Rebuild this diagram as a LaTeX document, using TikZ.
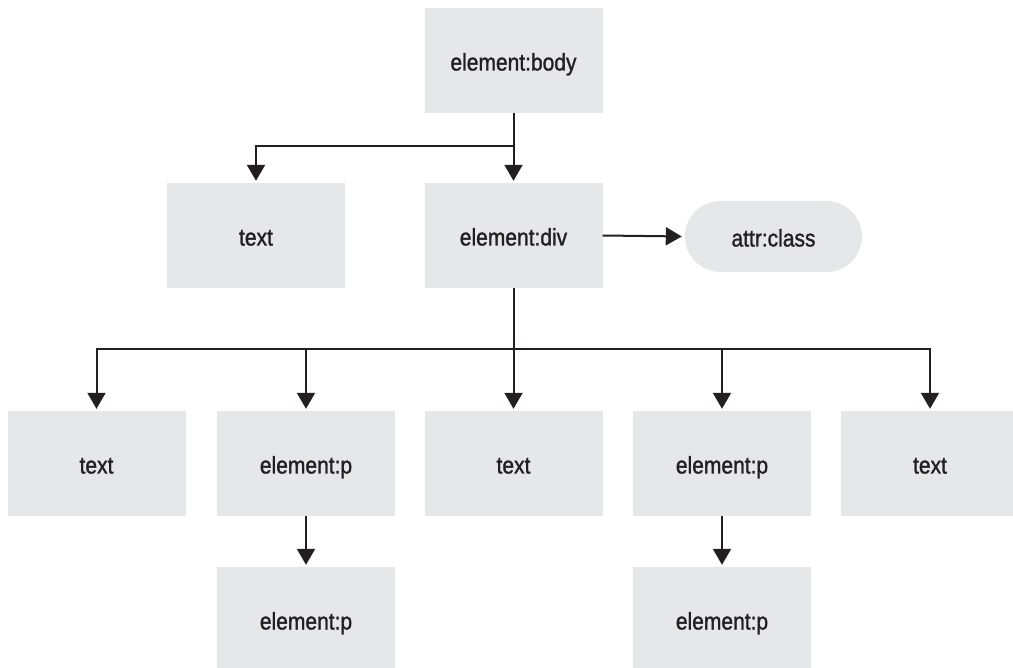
\documentclass[tikz,border=0pt]{standalone}
\usepackage{fontspec}
\setmainfont{Liberation Sans}[FakeStretch=0.875,FakeBold=1.2]
\usetikzlibrary{arrows.meta}
\definecolor{boxgray}{HTML}{E6E7E8}
\definecolor{ink}{HTML}{231F20}
\begin{document}
\begin{tikzpicture}[x=1pt,y=-1pt,
  box/.style={fill=boxgray,draw=none,minimum width=178pt,minimum height=105pt,inner sep=0pt,
    text=ink,font=\fontsize{24}{28}\selectfont,text height=20pt,text depth=0pt},
  pill/.style={box,minimum width=177pt,minimum height=71pt,rounded corners=35.5pt},
  conn/.style={draw=ink,line width=2pt},
  arr/.style={conn,-{Triangle[length=16pt,width=18pt]},shorten >=2pt}]
\useasboundingbox (0,0) rectangle (1013,668);
\clip (0,0) rectangle (1013,668);
\node[box] (body) at (513.5,60.5) {element:body};
\node[box] (t1) at (256,235.5) {text};
\node[box] (div) at (513.5,235.5) {element:div};
\node[pill] (attr) at (773.5,236.5) {attr:class};
\node[box] (r1) at (96.5,463.5) {text};
\node[box] (r2) at (306,463.5) {element:p};
\node[box] (r3) at (513.5,463.5) {text};
\node[box] (r4) at (722,463.5) {element:p};
\node[box] (r5) at (930,463.5) {text};
\node[box] (s2) at (306,619.5) {element:p};
\node[box] (s4) at (722,619.5) {element:p};
\coordinate (j1) at (513.5,146);
\coordinate (j2) at (513.5,349);
\draw[arr] (body) -- (div);
\draw[arr] (j1) -| (t1.north);
\draw[arr,shorten >=3pt] (div.east) -- (attr.west);
\draw[arr] (div) -- (r3);
\draw[arr] (j2) -| (r1.north);
\draw[arr] (j2) -| (r2.north);
\draw[arr] (j2) -| (r4.north);
\draw[arr] (j2) -| (r5.north);
\draw[arr] (r2) -- (s2);
\draw[arr] (r4) -- (s4);
\end{tikzpicture}
\end{document}
